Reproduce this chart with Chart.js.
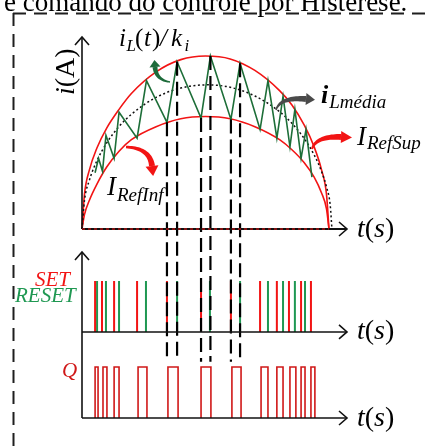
<!DOCTYPE html>
<html>
<head>
<meta charset="utf-8">
<script src="https://cdn.jsdelivr.net/npm/chart.js@4.4.1/dist/chart.umd.min.js"></script>
<style>
  html, body { margin: 0; padding: 0; background: #fff; overflow: hidden; }
  canvas { display: block; }
</style>
</head>
<body>
<canvas id="c" width="428" height="448"></canvas>
<script>
// Time in percent of the half cycle, current in per-unit of the mean peak.
const envT   = [0, 1, 3, 6, 10, 15, 20, 30, 40, 50, 60, 70, 80, 85, 90, 94, 97, 99, 100];
const upperI = [0, 0.24, 0.41, 0.56, 0.70, 0.83, 0.94, 1.09, 1.175, 1.20, 1.18, 1.10, 0.96, 0.86, 0.72, 0.57, 0.41, 0.24, 0];
const lowerI = [0, 0.10, 0.20, 0.31, 0.43, 0.54, 0.62, 0.71, 0.765, 0.78, 0.765, 0.71, 0.62, 0.55, 0.46, 0.36, 0.25, 0.14, 0];

const meanT = [0, 1, 3, 6, 10, 15, 20, 30, 40, 50.6, 60, 70, 80, 85, 90, 94, 97, 99, 100.5, 101.2];
const meanI = [0, 0.198, 0.339, 0.472, 0.597, 0.711, 0.796, 0.913, 0.978, 1.0, 0.983, 0.923, 0.814, 0.733, 0.627, 0.514, 0.399, 0.292, 0.166, 0];

// Inductor current ripple: alternating valleys (lower band) and peaks (upper band)
const zigT = [5.3, 6.7, 8.3, 9.7, 13.0, 15.0, 22.3, 26.1, 34.4, 38.5, 48.2, 52.0, 60.3, 64.0, 72.1, 75.3, 78.9, 81.4, 84.2, 86.2, 88.7, 90.7, 93.1];
const zigI = [0.39, 0.49, 0.40, 0.65, 0.49, 0.81, 0.63, 1.03, 0.74, 1.16, 0.77, 1.20, 0.76, 1.15, 0.69, 1.03, 0.63, 0.92, 0.57, 0.83, 0.49, 0.69, 0.36];

// Comparator events
const setT   = [5.3, 8.1, 13.0, 22.3, 34.4, 48.2, 60.3, 72.1, 78.9, 83.8, 88.7, 92.7];
const resetT = [6.1, 9.7, 15.0, 25.9, 38.5, 51.8, 64.0, 75.3, 81.4, 86.2, 90.3];

// Switch command Q
const qOn  = [5.3, 8.5, 13.0, 22.7, 34.8, 48.2, 60.7, 72.5, 78.9, 84.2, 88.7, 92.7];
const qOff = [6.5, 10.1, 15.0, 26.3, 38.9, 52.2, 64.4, 75.3, 81.4, 86.6, 90.3, 94.3];

// Dashed guides linking three switching cycles across the panels
const guideT   = [34.4, 38.5, 48.2, 52.0, 60.3, 64.0];
const guideTop = [0.74, 1.16, 0.77, 1.20, 0.76, 1.15];
const guideBottom = -0.92;

const RED = '#f21414', GREEN = '#1d6e38', PULSE_GREEN = '#1f9852', Q_RED = '#d01818';

const pairs = (ts, vs) => ts.map((t, i) => ({ x: t, y: vs[i] }));
const spikes = ts => ts.flatMap(t => [{ x: t, y: 0 }, { x: t, y: 1 }, { x: t, y: null }]);
const rects = (on, off) => on.flatMap((t, i) => [
  { x: t, y: 0 }, { x: t, y: 1 }, { x: off[i], y: 1 }, { x: off[i], y: 0 }, { x: off[i], y: null }]);
const guides = guideT.flatMap((t, i) => [{ x: t, y: guideTop[i] }, { x: t, y: guideBottom }, { x: t, y: null }]);

const base = { pointRadius: 0, fill: false, clip: false, spanGaps: false };

function taperArrow(ctx, p0, c, p1, w0, w1, headL, headW, color) {
  const N = 24, L = [], R = [];
  for (let i = 0; i <= N; i++) {
    const t = i / N, u = 1 - t;
    const x = u * u * p0[0] + 2 * u * t * c[0] + t * t * p1[0];
    const y = u * u * p0[1] + 2 * u * t * c[1] + t * t * p1[1];
    let dx = 2 * u * (c[0] - p0[0]) + 2 * t * (p1[0] - c[0]);
    let dy = 2 * u * (c[1] - p0[1]) + 2 * t * (p1[1] - c[1]);
    const m = Math.hypot(dx, dy) || 1; dx /= m; dy /= m;
    const w = (w0 + (w1 - w0) * t) / 2;
    L.push([x - dy * w, y + dx * w]); R.push([x + dy * w, y - dx * w]);
  }
  ctx.fillStyle = color;
  ctx.beginPath();
  L.forEach((p, i) => i ? ctx.lineTo(p[0], p[1]) : ctx.moveTo(p[0], p[1]));
  R.reverse().forEach(p => ctx.lineTo(p[0], p[1]));
  ctx.closePath(); ctx.fill();
  let dx = p1[0] - c[0], dy = p1[1] - c[1];
  const m = Math.hypot(dx, dy); dx /= m; dy /= m;
  ctx.beginPath();
  ctx.moveTo(p1[0] + dx * headL, p1[1] + dy * headL);
  ctx.lineTo(p1[0] - dy * headW / 2, p1[1] + dx * headW / 2);
  ctx.lineTo(p1[0] + dy * headW / 2, p1[1] - dx * headW / 2);
  ctx.closePath(); ctx.fill();
}

function text(ctx, s, x, y, font, color) {
  ctx.font = font; ctx.fillStyle = color || '#000'; ctx.fillText(s, x, y);
  return x + ctx.measureText(s).width;
}

const SERIF = '"Liberation Serif", "Times New Roman", serif';

const decorations = {
  id: 'decorations',
  afterDatasetsDraw(chart) {
    const { ctx, scales } = chart;
    const X = v => scales.x.getPixelForValue(v);
    const x0 = X(0), xEnd = chart.chartArea.right;
    const yI0 = scales.yI.getPixelForValue(0);
    const yS0 = scales.yS.getPixelForValue(0);
    const yQ0 = scales.yQ.getPixelForValue(0);
    ctx.save();
    ctx.textBaseline = 'alphabetic';

    // frame
    ctx.strokeStyle = '#1e1e1e'; ctx.lineWidth = 2; ctx.setLineDash([13, 8]);
    ctx.beginPath(); ctx.moveTo(13, 13.5); ctx.lineTo(428, 13.5); ctx.stroke();
    ctx.beginPath(); ctx.moveTo(13.5, 13); ctx.lineTo(13.5, 448); ctx.stroke();
    ctx.setLineDash([]);

    text(ctx, 'e comando do controle por Histerese.', 4, 11, '27px ' + SERIF);

    // axes
    ctx.strokeStyle = '#111'; ctx.lineWidth = 1.6; ctx.lineCap = 'butt';
    const line = (a, b, c, d) => { ctx.beginPath(); ctx.moveTo(a, b); ctx.lineTo(c, d); ctx.stroke(); };
    const upArrow = (x, y) => { ctx.beginPath(); ctx.moveTo(x - 7, y + 8); ctx.lineTo(x, y); ctx.lineTo(x + 7, y + 8); ctx.stroke(); };
    const rightArrow = (x, y) => { ctx.beginPath(); ctx.moveTo(x - 8, y - 7); ctx.lineTo(x, y); ctx.lineTo(x - 8, y + 7); ctx.stroke(); };
    const top1 = chart.chartArea.top;
    line(x0, yI0, x0, top1); upArrow(x0, top1);
    ctx.lineWidth = 2;
    line(x0, yI0, xEnd, yI0);
    ctx.lineWidth = 1.6;
    rightArrow(xEnd, yI0);
    ctx.strokeStyle = RED; ctx.lineWidth = 1; ctx.setLineDash([3, 3]);
    line(x0, yI0, X(100), yI0); ctx.setLineDash([]);
    ctx.strokeStyle = '#111'; ctx.lineWidth = 1.6;
    const top2 = yS0 - 80;
    line(x0, yQ0, x0, top2); upArrow(x0, top2);
    line(x0, yS0, xEnd, yS0); rightArrow(xEnd, yS0);
    line(x0, yQ0, xEnd, yQ0); rightArrow(xEnd, yQ0);

    // axis titles
    const ts = '28px ' + SERIF;
    [yI0, yS0, yQ0].forEach(y => {
      let x = text(ctx, 't', 357, y + 7.5, 'italic ' + ts);
      x = text(ctx, '(', x, y + 7.5, ts);
      x = text(ctx, 's', x, y + 7.5, 'italic ' + ts);
      text(ctx, ')', x, y + 7.5, ts);
    });
    ctx.save();
    ctx.translate(74, 95); ctx.rotate(-Math.PI / 2);
    let ax = text(ctx, 'i', 0, 0, 'italic 28px ' + SERIF);
    text(ctx, '(A)', ax, 0, '28px ' + SERIF);
    ctx.restore();

    // curve labels
    const m = 'italic 25px ' + SERIF, s = 'italic 17px ' + SERIF;
    text(ctx, 'i', 119, 46, m); text(ctx, 'L', 126.5, 51, s);
    text(ctx, '(', 135, 46, '25px ' + SERIF); text(ctx, 't', 144, 46, m);
    text(ctx, ')', 152, 46, '25px ' + SERIF); text(ctx, '/', 160, 46, m);
    text(ctx, 'k', 171, 46, m); text(ctx, 'i', 184.5, 51, s);

    let lx = text(ctx, 'i', 321, 103, 'bold italic 26px ' + SERIF);
    text(ctx, 'Lmédia', lx + 1, 108, 'italic 19px ' + SERIF);
    lx = text(ctx, 'I', 357, 145, 'italic 27px ' + SERIF);
    text(ctx, 'RefSup', lx + 1, 149, 'italic 19px ' + SERIF);
    lx = text(ctx, 'I', 107, 195, 'italic 27px ' + SERIF);
    text(ctx, 'RefInf', lx + 1, 201, 'italic 19px ' + SERIF);

    text(ctx, 'SET', 35, 286, 'italic 21px ' + SERIF, RED);
    text(ctx, 'RESET', 15, 302, 'italic 21px ' + SERIF, PULSE_GREEN);
    text(ctx, 'Q', 62, 377, 'italic 21px ' + SERIF, Q_RED);

    // pointer arrows
    taperArrow(ctx, [170, 82], [156, 80], [155, 67], 1.5, 5, 7, 11, '#1d6b3a');
    taperArrow(ctx, [276, 110], [280, 97], [306, 99], 1.5, 6, 9, 12, '#4a4a4a');
    taperArrow(ctx, [312, 149], [316, 136], [341, 137], 2, 6, 11, 12, RED);
    taperArrow(ctx, [126, 147], [150, 148], [152, 166], 2.5, 6, 10, 13, RED);
    ctx.restore();
  }
};

new Chart(document.getElementById('c'), {
  type: 'line',
  data: {
    datasets: [
      { ...base, label: 'guides', data: guides, yAxisID: 'yI', borderColor: '#000', borderWidth: 2.2, borderDash: [14, 6], order: 0 },
      { ...base, label: 'iL(t)/ki', data: pairs(zigT, zigI), yAxisID: 'yI', borderColor: GREEN, borderWidth: 1.6, tension: 0, order: 1 },
      { ...base, label: 'iLmédia', data: pairs(meanT, meanI), yAxisID: 'yI', borderColor: '#111', borderWidth: 1.5, borderDash: [2, 2.5], cubicInterpolationMode: 'monotone', order: 2 },
      { ...base, label: 'IRefSup', data: pairs(envT, upperI), yAxisID: 'yI', borderColor: RED, borderWidth: 1.6, cubicInterpolationMode: 'monotone', order: 3 },
      { ...base, label: 'IRefInf', data: pairs(envT, lowerI), yAxisID: 'yI', borderColor: RED, borderWidth: 1.6, cubicInterpolationMode: 'monotone', order: 3 },
      { ...base, label: 'SET', data: spikes(setT), yAxisID: 'yS', borderColor: RED, borderWidth: 2, order: 2 },
      { ...base, label: 'RESET', data: spikes(resetT), yAxisID: 'yS', borderColor: PULSE_GREEN, borderWidth: 2, order: 2 },
      { ...base, label: 'Q', data: rects(qOn, qOff), yAxisID: 'yQ', borderColor: Q_RED, borderWidth: 1.6, borderJoinStyle: 'miter', order: 4 }
    ]
  },
  options: {
    responsive: false,
    animation: false,
    events: [],
    layout: { padding: { left: 82, right: 81, top: 37, bottom: 30 } },
    plugins: { legend: { display: false }, tooltip: { enabled: false }, title: { display: false } },
    scales: {
      x:  { type: 'linear', min: 0, max: 107.3, display: false },
      yI: { type: 'linear', min: -1.311, max: 1.332, display: false },
      yS: { type: 'linear', min: -1.686, max: 5.78, display: false },
      yQ: { type: 'linear', min: 0, max: 7.47, display: false }
    }
  },
  plugins: [decorations]
});
</script>
</body>
</html>
